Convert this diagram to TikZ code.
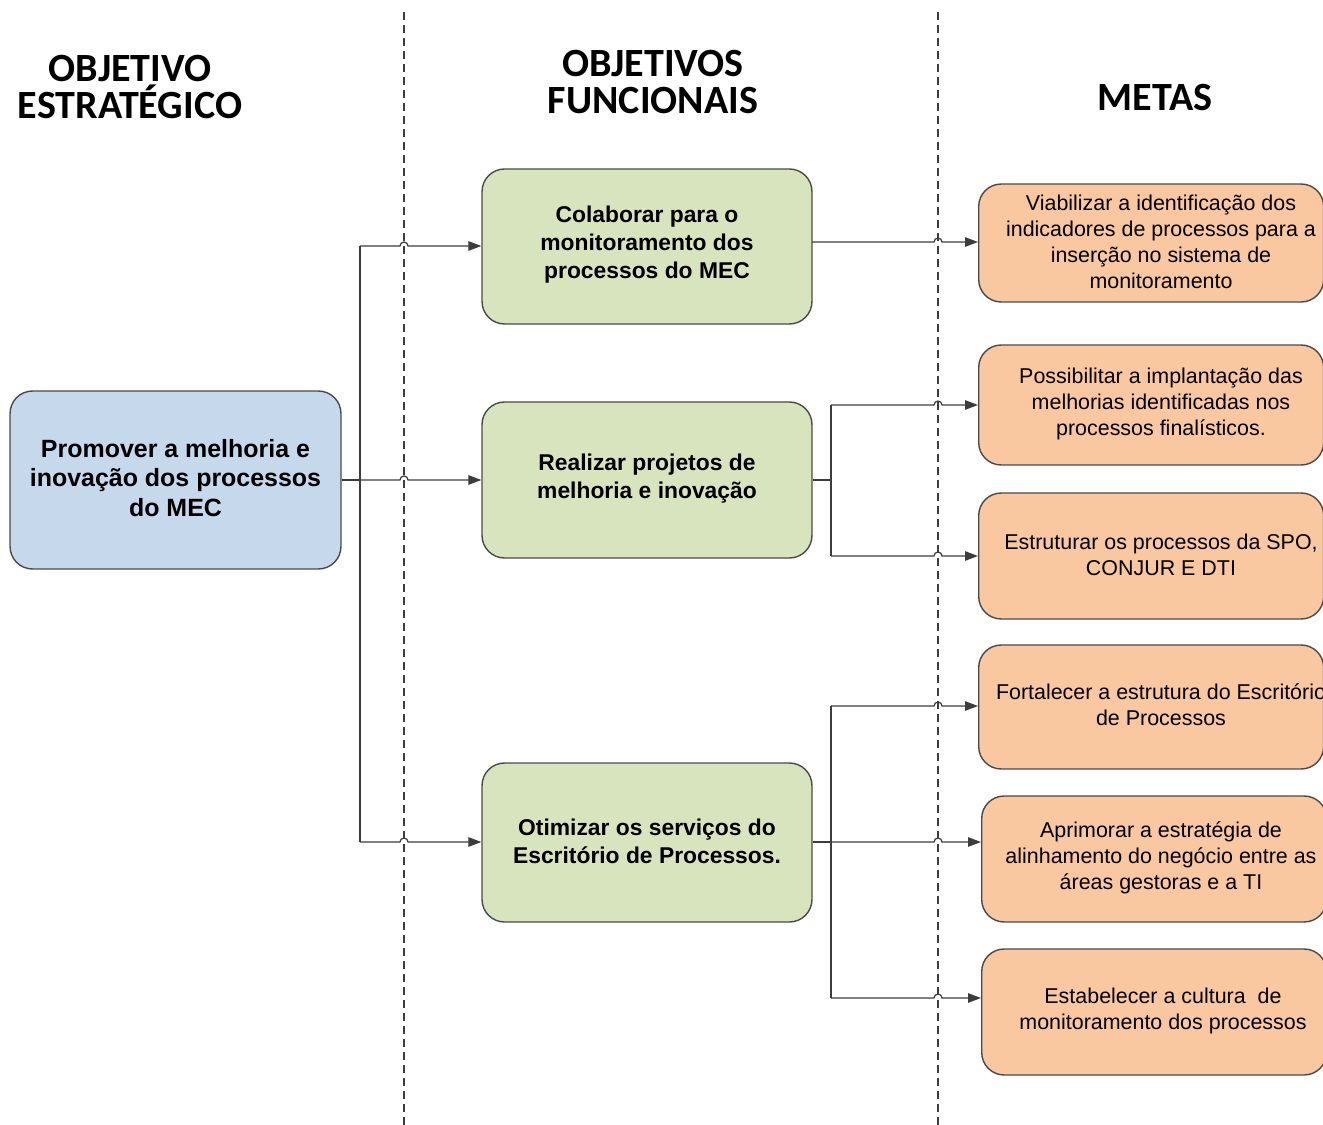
\documentclass[tikz,border=0pt]{standalone}
\usepackage{fontspec}
\setmainfont{Liberation Sans}
\newfontfamily\headfont{Carlito}
\usetikzlibrary{arrows.meta,calc}
\definecolor{bluefill}{HTML}{C6D8EB}
\definecolor{greenfill}{HTML}{D8E4BE}
\definecolor{orangefill}{HTML}{F9C8A1}
\definecolor{edgegray}{HTML}{4A4A4A}
\definecolor{linegray}{HTML}{3C3C3C}
\tikzset{
  x=0.02cm, y=-0.02cm,
  box/.style={draw=edgegray, line width=0.8pt, rounded corners=0.45cm, inner sep=0pt},
  bluebox/.style={box, fill=bluefill, minimum width=6.62cm, minimum height=3.56cm},
  greenbox/.style={box, fill=greenfill, minimum width=6.6cm},
  orangebox/.style={box, fill=orangefill, minimum width=6.9cm},
  head/.style={font=\headfont\bfseries\fontsize{22.8}{21.5}\selectfont, align=center},
  boldtxt/.style={font=\bfseries\fontsize{13}{15.9}\selectfont, align=center},
  bigtxt/.style={font=\bfseries\fontsize{14.2}{17}\selectfont, align=center},
  metatxt/.style={font=\fontsize{12.2}{14.7}\selectfont, align=center},
  conn/.style={draw=linegray, line width=0.7pt},
  arr/.style={conn, -{Triangle[length=0.26cm,width=0.19cm]}},
  sep/.style={draw=linegray, line width=0.6pt, dash pattern=on 0.16cm off 0.1cm},
}
\begin{document}
\begin{tikzpicture}
\useasboundingbox (0,0) rectangle (1323,1125);
\begin{scope}
\clip (0,0) rectangle (1323,1125);

% separators
\draw[sep] (404,12) -- (404,1125);
\draw[sep] (938,12) -- (938,1125);

% headers
\node[head] (h1) at (130,87) {OBJETIVO\\ESTRATÉGICO};
\node[head] (h2) at (653,82) {OBJETIVOS\\FUNCIONAIS};
\node[head] (h3) at (1155,98) {METAS};

% strategic
\node[bluebox] (b) at (175.5,480) {};
\node[bigtxt] (bt) at (175.5,478) {Promover a melhoria e\\inovação dos processos\\do MEC};

% functional
\node[greenbox, minimum height=3.1cm] (g1) at (647,246.5) {};
\node[boldtxt] (g1t) at (647,245) {Colaborar para o\\monitoramento dos\\processos do MEC};
\node[greenbox, minimum height=3.12cm] (g2) at (647,480) {};
\node[boldtxt] (g2t) at (647,479) {Realizar projetos de\\melhoria e inovação};
\node[greenbox, minimum height=3.18cm] (g3) at (647,842.5) {};
\node[boldtxt] (g3t) at (647,841) {Otimizar os serviços do\\Escritório de Processos.};

% goals
\node[orangebox, minimum height=2.36cm, anchor=west] (o1) at (978,243) {};
\node[metatxt] (o1t) at (1161,242) {Viabilizar a identificação dos\\indicadores de processos para a\\inserção no sistema de\\monitoramento};
\node[orangebox, minimum height=2.4cm, anchor=west] (o2) at (978,405) {};
\node[metatxt] (o2t) at (1161,404) {Possibilitar a implantação das\\melhorias identificadas nos\\processos finalísticos.};
\node[orangebox, minimum height=2.52cm, anchor=west] (o3) at (978,556) {};
\node[metatxt] (o3t) at (1161,555) {Estruturar os processos da SPO,\\CONJUR E DTI};
\node[orangebox, minimum height=2.48cm, anchor=west] (o4) at (978,707) {};
\node[metatxt] (o4t) at (1161,705) {Fortalecer a estrutura do Escritório\\de Processos};
\node[orangebox, minimum height=2.52cm, anchor=west] (o5) at (981,859) {};
\node[metatxt] (o5t) at (1161,858) {Aprimorar a estratégia de\\alinhamento do negócio entre as\\áreas gestoras e a TI};
\node[orangebox, minimum height=2.52cm, anchor=west] (o6) at (981,1012) {};
\node[metatxt] (o6t) at (1163,1011) {Estabelecer a cultura\ \ de\\monitoramento dos processos};

% junction points
\coordinate (jb) at (360,480);
\coordinate (jb1) at (360,246);
\coordinate (jb3) at (360,842);
\coordinate (jg2) at (831,480);
\coordinate (jg2a) at (831,405);
\coordinate (jg2b) at (831,556);
\coordinate (jg3) at (831,842);
\coordinate (jg3a) at (831,706);
\coordinate (jg3c) at (831,998);

% strategic -> functional
\draw[conn] (b.east |- jb) -- (jb);
\draw[conn] (jb1) -- (jb3);
\draw[arr] (jb1) -- (400,246) arc[start angle=180,end angle=0,radius=0.08cm] -- (g1.west |- jb1);
\draw[arr] (jb) -- (400,480) arc[start angle=180,end angle=0,radius=0.08cm] -- (g2.west |- jb);
\draw[arr] (jb3) -- (400,842) arc[start angle=180,end angle=0,radius=0.08cm] -- (g3.west |- jb3);

% functional 1 -> goal 1
\coordinate (g1o) at (812,242);
\draw[arr] (g1o) -- (934,242) arc[start angle=180,end angle=0,radius=0.08cm] -- (o1.west |- g1o);

% functional 2 -> goals 2,3
\draw[conn] (g2.east |- jg2) -- (jg2);
\draw[conn] (jg2a) -- (jg2b);
\draw[arr] (jg2a) -- (934,405) arc[start angle=180,end angle=0,radius=0.08cm] -- (o2.west |- jg2a);
\draw[arr] (jg2b) -- (934,556) arc[start angle=180,end angle=0,radius=0.08cm] -- (o3.west |- jg2b);

% functional 3 -> goals 4,5,6
\draw[conn] (g3.east |- jg3) -- (jg3);
\draw[conn] (jg3a) -- (jg3c);
\draw[arr] (jg3a) -- (934,706) arc[start angle=180,end angle=0,radius=0.08cm] -- (o4.west |- jg3a);
\draw[arr] (jg3) -- (934,842) arc[start angle=180,end angle=0,radius=0.08cm] -- (o5.west |- jg3);
\draw[arr] (jg3c) -- (934,998) arc[start angle=180,end angle=0,radius=0.08cm] -- (o6.west |- jg3c);
\end{scope}
\end{tikzpicture}
\end{document}
